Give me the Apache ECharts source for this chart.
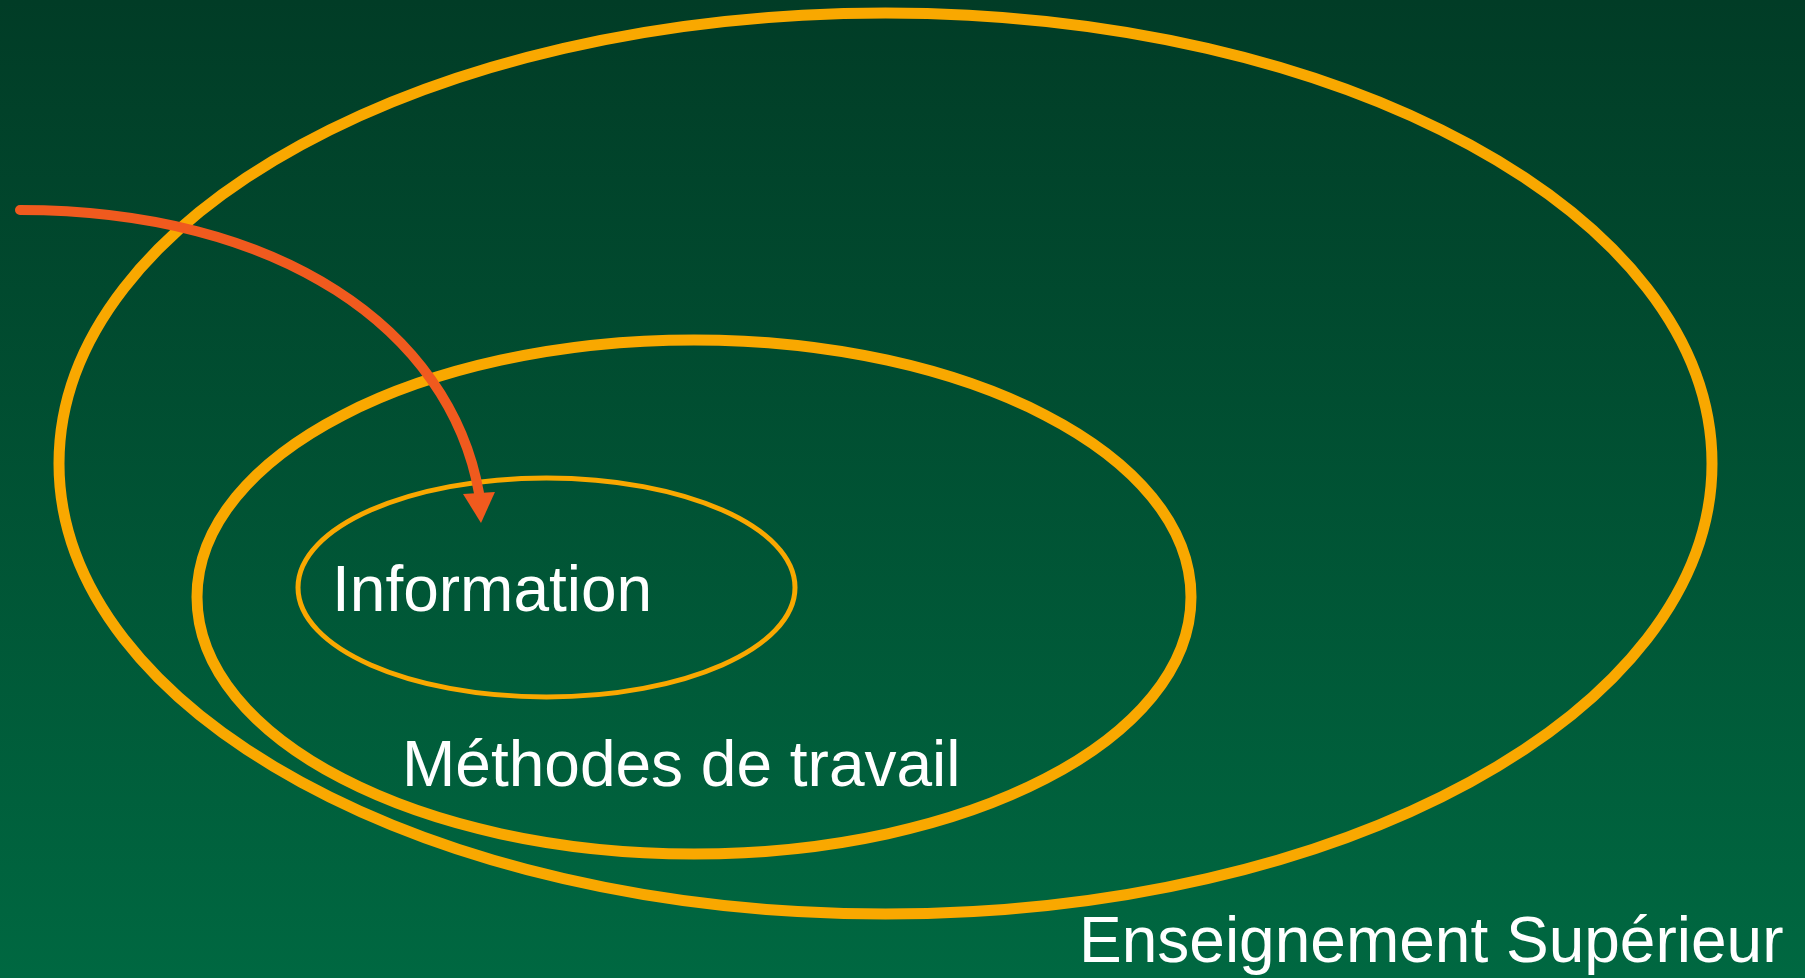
<!DOCTYPE html>
<html>
<head>
<meta charset="utf-8">
<script src="https://cdn.jsdelivr.net/npm/echarts@6/dist/echarts.min.js"></script>
<style>
html,body{margin:0;padding:0;width:100%;height:100%;overflow:hidden;background:#004e33}
#chart{width:1805px;height:978px}
</style>
</head>
<body>
<div id="chart"></div>
<script>
// ---- Data (diagram units on a 0..1805 x 0..978 plane, y downward) ----
const ellipseNames = ['Enseignement Supérieur', 'Méthodes de travail', 'Information'];
const ellipseCX = [885.5, 694, 546.5];
const ellipseCY = [463.5, 597, 587.5];
const ellipseRX = [826.5, 497, 248.5];
const ellipseRY = [450.5, 257, 109.5];

const labelTexts = ['Enseignement Supérieur', 'Méthodes de travail', 'Information'];
const labelX = [1079, 402, 332];
const labelBaseline = [964, 788, 613];

// arrow: cubic bezier (start, control 1, control 2, end) and arrow tip
const arrowX = [20, 280, 450, 479];
const arrowY = [210, 210, 330, 493];
const arrowTip = [481, 523];

// ---- Styles ----
const ORANGE = '#F9A800';
const ARROW = '#F05A1E';
const ellipseWidths = [11, 11, 5];
const FONT_SIZE = 64;

const chart = echarts.init(document.getElementById('chart'), null, {renderer: 'canvas'});

const ellipseData = ellipseCX.map((cx, i) => ({name: ellipseNames[i], value: [cx, ellipseCY[i], ellipseRX[i], ellipseRY[i]]}));
const labelData = labelX.map((x, i) => ({name: labelTexts[i], value: [x, labelBaseline[i]]}));
const arrowData = [[arrowX[0], arrowY[0], arrowX[1], arrowY[1], arrowX[2], arrowY[2], arrowX[3], arrowY[3], arrowTip[0], arrowTip[1]]];

chart.setOption({
  animation: false,
  backgroundColor: new echarts.graphic.LinearGradient(0, 0, 0, 1, [
    {offset: 0, color: '#013C26'},
    {offset: 1, color: '#006841'}
  ]),
  grid: {left: 0, right: 0, top: 0, bottom: 0},
  xAxis: {type: 'value', min: 0, max: 1805, show: false},
  yAxis: {type: 'value', min: 0, max: 978, inverse: true, show: false},
  tooltip: {show: false},
  series: [
    {
      type: 'custom',
      name: 'ellipses',
      coordinateSystem: 'cartesian2d',
      clip: false,
      z: 1,
      encode: {x: 0, y: 1},
      data: ellipseData,
      renderItem: function (params, api) {
        const c = api.coord([api.value(0), api.value(1)]);
        const s = api.size([api.value(2), api.value(3)]);
        return {
          type: 'ellipse',
          shape: {cx: c[0], cy: c[1], rx: Math.abs(s[0]), ry: Math.abs(s[1])},
          style: {fill: 'none', stroke: ORANGE, lineWidth: ellipseWidths[params.dataIndex]}
        };
      }
    },
    {
      type: 'custom',
      name: 'arrow',
      coordinateSystem: 'cartesian2d',
      clip: false,
      z: 2,
      encode: {x: 0, y: 1},
      data: arrowData,
      renderItem: function (params, api) {
        const p0 = api.coord([api.value(0), api.value(1)]);
        const p1 = api.coord([api.value(2), api.value(3)]);
        const p2 = api.coord([api.value(4), api.value(5)]);
        const p3 = api.coord([api.value(6), api.value(7)]);
        const tip = api.coord([api.value(8), api.value(9)]);
        const dx = tip[0] - p3[0], dy = tip[1] - p3[1];
        const len = Math.sqrt(dx * dx + dy * dy) || 1;
        const px = -dy / len, py = dx / len;
        const hw = 16;
        return {
          type: 'group',
          children: [
            {
              type: 'bezierCurve',
              shape: {x1: p0[0], y1: p0[1], cpx1: p1[0], cpy1: p1[1], cpx2: p2[0], cpy2: p2[1], x2: p3[0], y2: p3[1]},
              style: {fill: 'none', stroke: ARROW, lineWidth: 10, lineCap: 'round'}
            },
            {
              type: 'polygon',
              shape: {points: [[p3[0] + px * hw, p3[1] + py * hw], tip, [p3[0] - px * hw, p3[1] - py * hw]]},
              style: {fill: ARROW}
            }
          ]
        };
      }
    },
    {
      type: 'custom',
      name: 'labels',
      coordinateSystem: 'cartesian2d',
      clip: false,
      z: 3,
      encode: {x: 0, y: 1},
      data: labelData,
      renderItem: function (params, api) {
        const c = api.coord([api.value(0), api.value(1)]);
        return {
          type: 'text',
          x: c[0],
          y: c[1] - 0.31 * FONT_SIZE,
          style: {
            text: labelTexts[params.dataIndex],
            fill: '#FFFFFF',
            font: FONT_SIZE + 'px "Liberation Sans", Arial, sans-serif',
            align: 'left',
            verticalAlign: 'middle'
          }
        };
      }
    }
  ]
});
</script>
</body>
</html>
